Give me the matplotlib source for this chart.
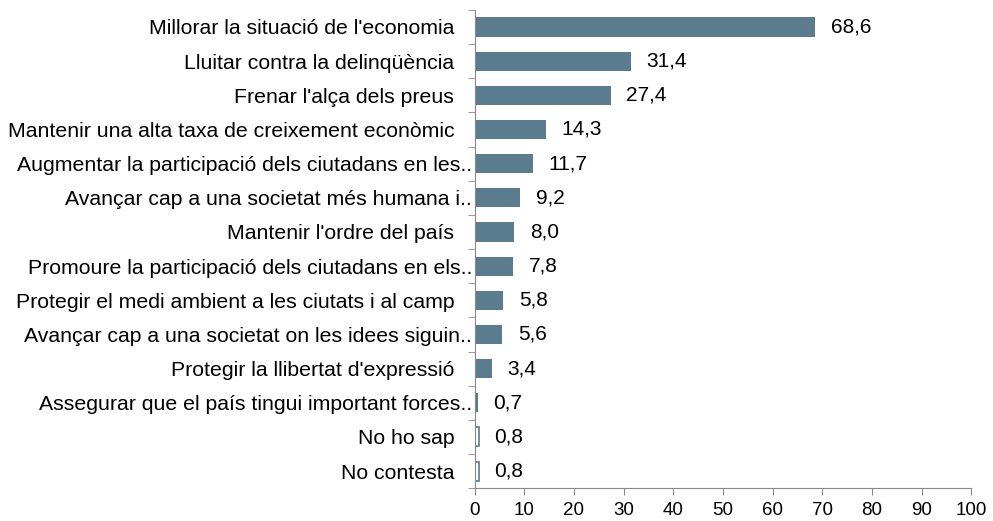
import matplotlib.pyplot as plt
import numpy as np

plt.rcParams["font.family"] = ["Liberation Sans", "DejaVu Sans"]

labels = [
    "Millorar la situació de l'economia",
    "Lluitar contra la delinqüència",
    "Frenar l'alça dels preus",
    "Mantenir una alta taxa de creixement econòmic",
    "Augmentar la participació dels ciutadans en les..",
    "Avançar cap a una societat més humana i..",
    "Mantenir l'ordre del país",
    "Promoure la participació dels ciutadans en els..",
    "Protegir el medi ambient a les ciutats i al camp",
    "Avançar cap a una societat on les idees siguin..",
    "Protegir la llibertat d'expressió",
    "Assegurar que el país tingui important forces..",
    "No ho sap",
    "No contesta",
]
values = [68.6, 31.4, 27.4, 14.3, 11.7, 9.2, 8.0, 7.8, 5.8, 5.6, 3.4, 0.7, 0.8, 0.8]
hollow = ["No ho sap", "No contesta"]

bar_color = "#5b7b8e"

fig = plt.figure(figsize=(9.93, 5.21), dpi=100)
ax = fig.add_axes([0.478, 0.063, 0.5, 0.918])

y = np.arange(len(labels))
for yi, lab, v in zip(y, labels, values):
    if lab in hollow:
        ax.barh(yi, v, height=0.56, color="white", edgecolor=bar_color, linewidth=1.2)
    else:
        ax.barh(yi, v, height=0.56, color=bar_color)
    ax.text(v + 3.1, yi, f"{v:.1f}".replace(".", ","), va="center", ha="left", fontsize=15)

# truncated labels run a little further right than the full ones
shown = [l if l.endswith("..") else l + "   " for l in labels]

ax.set_ylim(len(labels) - 0.5, -0.5)
ax.set_xlim(0, 100)
ax.set_xticks(range(0, 101, 10))
ax.set_yticks(y)
ax.set_yticklabels(shown, fontsize=15.3)
ax.set_yticks(np.arange(-0.5, len(labels), 1), minor=True)
ax.tick_params(axis="y", which="major", length=0, pad=2)
ax.tick_params(axis="y", which="minor", length=5, color="#888888", direction="out")
ax.tick_params(axis="x", labelsize=13.5, length=5, color="#888888", direction="out", pad=5)

for s in ["top", "right"]:
    ax.spines[s].set_visible(False)
for s in ["left", "bottom"]:
    ax.spines[s].set_color("#888888")

fig.savefig("out.png", dpi=100)
